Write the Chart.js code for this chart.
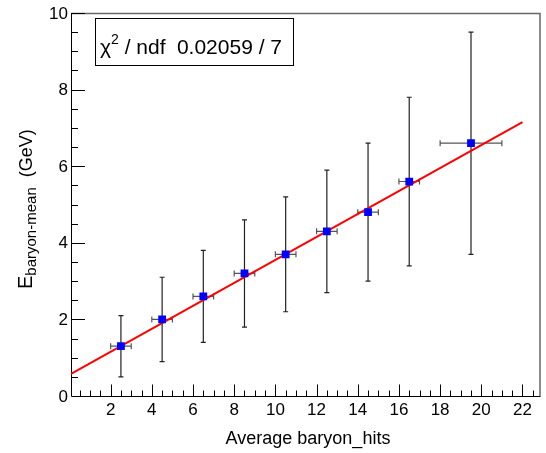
<!DOCTYPE html>
<html>
<head>
<meta charset="utf-8">
<script src="https://cdn.jsdelivr.net/npm/chart.js@4"></script>
<style>
  html, body { margin: 0; padding: 0; background: #fff; }
  #wrap { width: 546px; height: 453px; }
</style>
</head>
<body>
<div id="wrap"><canvas id="c" width="546" height="453"></canvas></div>
<script>
// values
var xVals = [2.5, 4.5, 6.5, 8.5, 10.5, 12.5, 14.5, 16.5, 19.5];
var yVals = [1.3, 2.0, 2.6, 3.2, 3.7, 4.3, 4.8, 5.6, 6.6];
var xErrs = [0.5, 0.5, 0.5, 0.5, 0.5, 0.5, 0.5, 0.5, 1.5];
var yLow  = [0.5, 0.9, 1.4, 1.8, 2.2, 2.7, 3.0, 3.4, 3.7];
var yHigh = [2.1, 3.1, 3.8, 4.6, 5.2, 5.9, 6.6, 7.8, 9.5];

// fit line end points
var fitX = [0.075, 22];
var fitY = [0.58, 7.15];

var xTicks = [2, 4, 6, 8, 10, 12, 14, 16, 18, 20, 22];
var yTicks = [0, 2, 4, 6, 8, 10];

var xTitle = "Average baryon_hits";
var fitText = "0.02059 / 7";

var FONT = "Liberation Sans, Arial, sans-serif";

var points = xVals.map(function (x, i) { return { x: x, y: yVals[i] }; });
var fitLine = fitX.map(function (x, i) { return { x: x, y: fitY[i] }; });

// ROOT-ish frame, ticks and labels
var framePlugin = {
  id: "frame",
  beforeDatasetsDraw: function (chart) {
    var ctx = chart.ctx, a = chart.chartArea;
    var xs = chart.scales.x, ys = chart.scales.y;
    ctx.save();

    // frame
    ctx.strokeStyle = "#666";
    ctx.lineWidth = 1.5;
    ctx.beginPath();
    ctx.moveTo(a.left, a.top + 0.5);
    ctx.lineTo(a.right - 0.5, a.top + 0.5);
    ctx.lineTo(a.right - 0.5, a.bottom);
    ctx.stroke();
    ctx.strokeStyle = "#000";
    ctx.lineWidth = 1;
    ctx.beginPath();
    ctx.moveTo(a.left + 0.5, a.top);
    ctx.lineTo(a.left + 0.5, a.bottom + 0.5);
    ctx.lineTo(a.right, a.bottom + 0.5);
    ctx.stroke();

    // x ticks
    ctx.beginPath();
    for (var v = 0.5; v < xs.max; v += 0.5) {
      var px = Math.round(xs.getPixelForValue(v)) + 0.5;
      var major = xTicks.indexOf(v) >= 0;
      ctx.moveTo(px, a.bottom);
      ctx.lineTo(px, a.bottom - (major ? 11.5 : 5.5));
    }
    // y ticks
    for (var w = 0.5; w < ys.max; w += 0.5) {
      var py = Math.round(ys.getPixelForValue(w)) + 0.5;
      var majorY = yTicks.indexOf(w) >= 0;
      ctx.moveTo(a.left, py);
      ctx.lineTo(a.left + (majorY ? 14 : 7), py);
    }
    ctx.moveTo(a.left, a.top + 0.5);
    ctx.lineTo(a.left + 14, a.top + 0.5);
    ctx.stroke();

    // tick labels
    ctx.fillStyle = "#000";
    ctx.font = "17px " + FONT;
    ctx.textAlign = "center";
    ctx.textBaseline = "top";
    xTicks.forEach(function (t) {
      ctx.fillText(String(t), xs.getPixelForValue(t), a.bottom + 6);
    });
    ctx.textAlign = "right";
    ctx.textBaseline = "middle";
    yTicks.forEach(function (t) {
      ctx.fillText(String(t), a.left - 3, ys.getPixelForValue(t) + 1);
    });

    // x title
    ctx.font = "18px " + FONT;
    ctx.textAlign = "center";
    ctx.textBaseline = "alphabetic";
    ctx.fillText(xTitle, 308, 444);

    // y title: E_{baryon-mean} (GeV)
    ctx.save();
    ctx.translate(32, 289);
    ctx.rotate(-Math.PI / 2);
    ctx.textAlign = "left";
    ctx.font = "20px " + FONT;
    ctx.fillText("E", 0, 0);
    var pos = ctx.measureText("E").width;
    ctx.font = "15px " + FONT;
    ctx.fillText("baryon-mean", pos, 4);
    pos += ctx.measureText("baryon-mean").width + 10;
    ctx.font = "18px " + FONT;
    ctx.fillText("(GeV)", pos, 0);
    ctx.restore();

    // error bars
    ctx.lineWidth = 1.2;
    for (var i = 0; i < xVals.length; i++) {
      var cx = xs.getPixelForValue(xVals[i]);
      var cy = ys.getPixelForValue(yVals[i]);
      var x0 = xs.getPixelForValue(xVals[i] - xErrs[i]);
      var x1 = xs.getPixelForValue(xVals[i] + xErrs[i]);
      var y0 = ys.getPixelForValue(yLow[i]);
      var y1 = ys.getPixelForValue(yHigh[i]);
      ctx.strokeStyle = "#222";
      ctx.beginPath();
      ctx.moveTo(cx, y0); ctx.lineTo(cx, y1);
      ctx.moveTo(cx - 2.5, y0); ctx.lineTo(cx + 2.5, y0);
      ctx.moveTo(cx - 2.5, y1); ctx.lineTo(cx + 2.5, y1);
      ctx.stroke();
      ctx.strokeStyle = "#555";
      ctx.beginPath();
      ctx.moveTo(x0, cy); ctx.lineTo(x1, cy);
      ctx.moveTo(x0, cy - 3); ctx.lineTo(x0, cy + 3);
      ctx.moveTo(x1, cy - 3); ctx.lineTo(x1, cy + 3);
      ctx.stroke();
    }
    ctx.restore();
  },
  afterDraw: function (chart) {
    // chi2 box
    var ctx = chart.ctx;
    ctx.save();
    ctx.fillStyle = "#fff";
    ctx.fillRect(95.5, 18.5, 198, 47);
    ctx.strokeStyle = "#000";
    ctx.lineWidth = 1;
    ctx.strokeRect(95.5, 18.5, 198, 47);
    ctx.fillStyle = "#000";
    ctx.textBaseline = "alphabetic";
    ctx.textAlign = "left";
    ctx.font = "21px " + FONT;
    ctx.fillText("\u03c7", 100, 54);
    var p = 100 + ctx.measureText("\u03c7").width;
    ctx.font = "14px " + FONT;
    ctx.fillText("2", p, 44);
    p += ctx.measureText("2").width;
    ctx.font = "21px " + FONT;
    ctx.fillText(" / ndf", p, 54);
    ctx.textAlign = "right";
    ctx.fillText(fitText, 282, 54);
    ctx.restore();
  }
};

new Chart(document.getElementById("c"), {
  type: "scatter",
  data: {
    datasets: [
      {
        label: "data",
        data: points,
        pointStyle: "rect",
        pointRadius: 5.5,
        pointHoverRadius: 5.5,
        backgroundColor: "#0000ff",
        borderColor: "#0000ff",
        borderWidth: 0,
        order: 0
      },
      {
        label: "fit",
        type: "line",
        data: fitLine,
        borderColor: "#ff0000",
        borderWidth: 2,
        pointRadius: 0,
        fill: false,
        order: 1
      }
    ]
  },
  plugins: [framePlugin],
  options: {
    responsive: false,
    animation: false,
    events: [],
    layout: { padding: { left: 71, right: 2, top: 13, bottom: 57 } },
    plugins: { legend: { display: false }, tooltip: { enabled: false } },
    scales: {
      x: { type: "linear", min: 0.075, max: 22.875, display: false },
      y: { type: "linear", min: 0, max: 10, display: false }
    }
  }
});
</script>
</body>
</html>
